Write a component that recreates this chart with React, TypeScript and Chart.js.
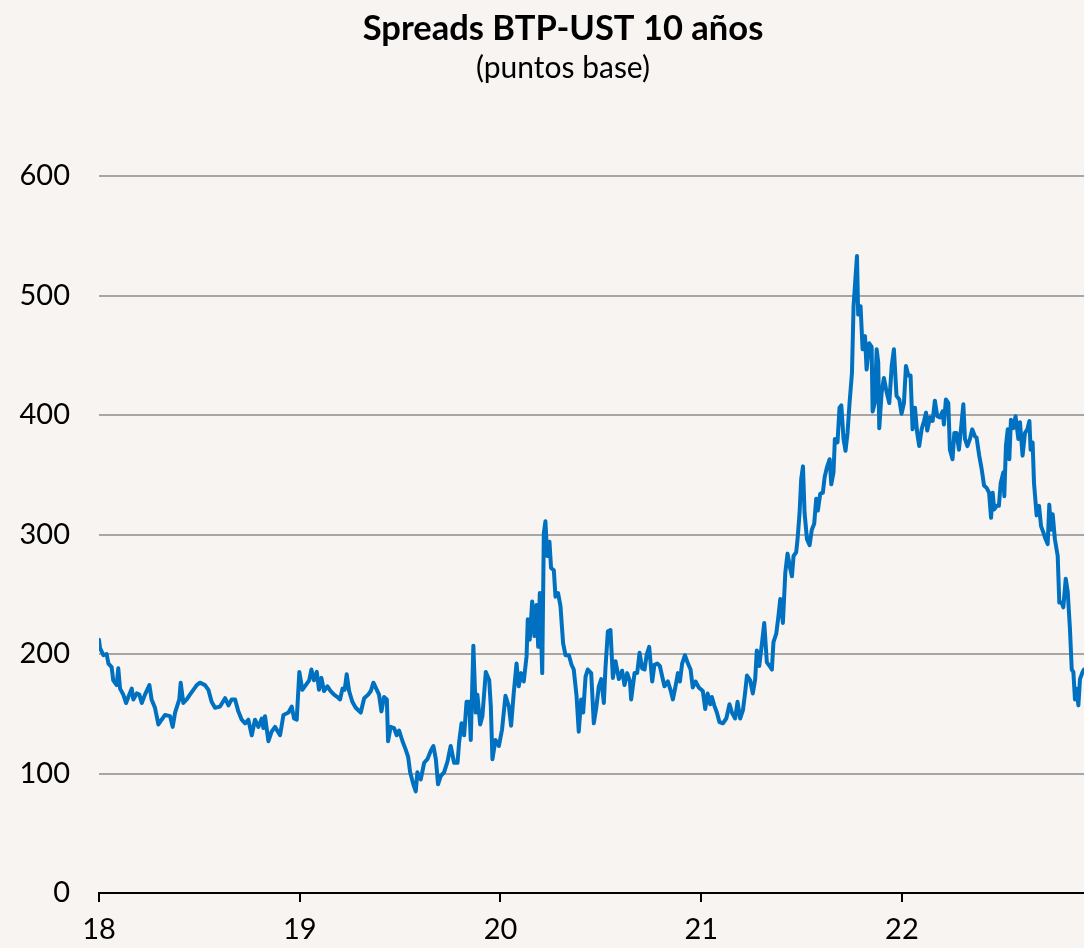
import React, { useEffect, useRef } from 'react';
import { Chart, registerables } from 'chart.js';

Chart.register(...registerables);

const TITLE = 'Spreads BTP-UST 10 años';
const SUBTITLE = '(puntos base)';
const xTickLabels = ['18', '19', '20', '21', '22'];
const yTickValues = [0, 100, 200, 300, 400, 500, 600];
const X_MAX = 4.907; // end of series (years since start of 2018)

// [years since 1 Jan 2018, spread in basis points]
const s2018: [number, number][] = [
  [0.000, 212], [0.005, 205], [0.022, 199], [0.038, 200], [0.047, 192], [0.063, 189], [0.071, 178],
  [0.088, 174], [0.096, 188], [0.105, 171], [0.121, 166], [0.135, 159], [0.146, 164], [0.163, 171],
  [0.171, 162], [0.188, 167], [0.201, 166], [0.213, 159], [0.229, 166], [0.251, 174], [0.262, 162],
  [0.279, 155], [0.296, 141], [0.312, 145], [0.329, 149], [0.354, 148], [0.367, 139], [0.379, 151],
  [0.400, 162], [0.407, 176], [0.420, 159], [0.437, 162], [0.453, 166], [0.470, 170], [0.487, 174],
  [0.503, 176], [0.528, 174], [0.545, 170], [0.561, 160], [0.578, 155], [0.603, 156], [0.628, 163],
  [0.645, 157], [0.661, 162], [0.678, 162], [0.694, 152], [0.711, 145], [0.728, 142], [0.744, 145],
  [0.761, 132], [0.777, 145], [0.794, 139], [0.811, 146], [0.819, 138], [0.827, 148], [0.844, 127],
  [0.860, 135], [0.877, 139], [0.902, 132], [0.919, 149], [0.944, 151], [0.960, 156], [0.972, 146],
  [0.985, 145], [0.998, 185],
];

const s2019: [number, number][] = [
  [1.013, 170], [1.030, 174], [1.047, 178], [1.058, 187], [1.071, 178], [1.085, 185], [1.096, 170],
  [1.108, 180], [1.121, 169], [1.138, 173], [1.154, 169], [1.171, 166], [1.188, 164], [1.201, 162],
  [1.213, 171], [1.224, 170], [1.234, 183], [1.246, 169], [1.262, 160], [1.279, 155], [1.304, 151],
  [1.321, 163], [1.341, 166], [1.354, 169], [1.367, 176], [1.384, 170], [1.395, 166], [1.407, 152],
  [1.420, 164], [1.434, 162], [1.440, 127], [1.453, 139], [1.470, 138], [1.483, 132], [1.495, 136],
  [1.512, 127], [1.528, 120], [1.540, 114], [1.550, 101], [1.566, 91], [1.578, 85], [1.586, 101],
  [1.603, 95], [1.620, 109], [1.636, 112], [1.653, 119], [1.666, 123], [1.678, 112], [1.689, 91],
  [1.703, 98], [1.719, 101], [1.736, 110], [1.752, 123], [1.769, 109], [1.786, 109], [1.794, 126],
  [1.806, 142], [1.819, 132], [1.831, 160], [1.844, 160], [1.852, 128], [1.865, 207], [1.877, 151],
  [1.885, 166], [1.899, 141], [1.910, 148], [1.927, 185], [1.944, 178], [1.952, 156], [1.960, 112],
  [1.975, 128], [1.992, 123],
];

const s2020: [number, number][] = [
  [2.008, 137], [2.025, 165], [2.042, 156], [2.053, 140], [2.066, 167], [2.080, 192], [2.091, 173],
  [2.103, 184], [2.116, 177], [2.130, 198], [2.136, 229], [2.146, 212], [2.158, 244], [2.169, 215],
  [2.179, 241], [2.188, 206], [2.196, 251], [2.208, 184], [2.216, 301], [2.224, 311], [2.233, 282],
  [2.244, 294], [2.252, 272], [2.266, 270], [2.274, 248], [2.287, 251], [2.299, 240], [2.312, 209],
  [2.324, 199], [2.341, 199], [2.354, 191], [2.365, 187], [2.379, 165], [2.390, 135], [2.402, 162],
  [2.412, 151], [2.424, 181], [2.435, 187], [2.452, 184], [2.465, 142], [2.478, 156], [2.490, 173],
  [2.502, 179], [2.515, 159], [2.523, 188], [2.535, 219], [2.548, 220], [2.560, 180], [2.573, 194],
  [2.590, 179], [2.606, 186], [2.618, 174], [2.631, 184], [2.645, 177], [2.651, 162], [2.668, 184],
  [2.681, 184], [2.693, 201], [2.706, 188], [2.718, 187], [2.728, 199], [2.741, 206], [2.756, 177],
  [2.767, 191], [2.781, 192], [2.794, 190], [2.806, 181], [2.817, 173], [2.834, 177], [2.847, 170],
  [2.859, 162], [2.872, 173], [2.884, 184], [2.894, 177], [2.905, 192], [2.919, 199], [2.934, 192],
  [2.947, 187], [2.958, 172], [2.972, 177], [2.988, 172],
];

const s2021: [number, number][] = [
  [3.008, 169], [3.020, 154], [3.032, 167], [3.045, 158], [3.053, 164], [3.065, 157], [3.078, 151],
  [3.091, 143], [3.108, 142], [3.125, 146], [3.141, 158], [3.153, 151], [3.169, 146], [3.181, 160],
  [3.194, 146], [3.208, 153], [3.219, 168], [3.228, 182], [3.244, 178], [3.257, 167], [3.269, 179],
  [3.277, 203], [3.289, 190], [3.302, 208], [3.314, 226], [3.327, 193], [3.341, 190], [3.352, 187],
  [3.360, 210], [3.374, 217], [3.385, 232], [3.394, 246], [3.407, 226], [3.419, 268], [3.430, 284],
  [3.444, 271], [3.452, 265], [3.460, 282], [3.473, 285], [3.480, 296], [3.490, 318], [3.498, 346],
  [3.507, 357], [3.515, 318], [3.527, 296], [3.540, 291], [3.551, 304], [3.563, 309], [3.573, 330],
  [3.581, 320], [3.593, 334], [3.606, 335], [3.615, 348], [3.626, 356], [3.640, 363], [3.648, 342],
  [3.659, 352], [3.666, 380], [3.679, 377], [3.689, 406], [3.698, 408], [3.709, 380], [3.719, 370],
  [3.729, 385], [3.739, 410], [3.751, 435], [3.759, 491], [3.767, 511], [3.776, 533], [3.782, 484],
  [3.794, 491], [3.804, 455], [3.816, 466], [3.824, 438], [3.837, 460], [3.849, 457], [3.854, 403],
  [3.865, 410], [3.874, 455], [3.882, 444], [3.887, 389], [3.899, 419], [3.910, 431], [3.924, 419],
  [3.937, 410], [3.949, 441], [3.960, 455], [3.973, 416], [3.987, 413], [3.998, 401],
];

const s2022: [number, number][] = [
  [4.010, 410], [4.020, 441], [4.032, 433], [4.043, 433], [4.053, 388], [4.065, 406], [4.076, 385],
  [4.086, 374], [4.098, 388], [4.110, 395], [4.120, 402], [4.126, 387], [4.140, 398], [4.153, 395],
  [4.164, 412], [4.176, 399], [4.189, 398], [4.203, 403], [4.209, 392], [4.219, 413], [4.231, 410],
  [4.239, 371], [4.252, 363], [4.261, 385], [4.272, 385], [4.284, 371], [4.294, 388], [4.306, 409],
  [4.314, 380], [4.326, 374], [4.339, 380], [4.350, 388], [4.364, 382], [4.372, 381], [4.385, 366],
  [4.397, 355], [4.409, 341], [4.422, 339], [4.434, 335], [4.444, 314], [4.452, 335], [4.460, 321],
  [4.472, 324], [4.483, 324], [4.492, 343], [4.505, 352], [4.510, 332], [4.518, 374], [4.527, 388],
  [4.535, 363], [4.543, 396], [4.555, 389], [4.566, 399], [4.580, 380], [4.588, 394], [4.601, 366],
  [4.613, 385], [4.625, 388], [4.635, 395], [4.641, 371], [4.651, 377], [4.658, 343], [4.671, 316],
  [4.683, 324], [4.693, 307], [4.704, 302], [4.716, 296], [4.726, 292], [4.734, 325], [4.743, 304],
  [4.751, 317], [4.762, 296], [4.776, 282], [4.784, 243], [4.796, 243], [4.804, 239], [4.816, 263],
  [4.826, 252], [4.837, 221], [4.846, 187], [4.854, 185], [4.862, 162], [4.870, 171], [4.879, 157],
  [4.887, 179], [4.900, 185], [4.907, 187],
];

const BG = '#F7F4F1';
const LINE = '#0070C0';
const GRID = '#A6A6A6';
const FONT = 'Lato, "Open Sans", sans-serif';

const decoPlugin = {
  id: 'deco',
  beforeDraw(chart: any) {
    const { ctx, width, height } = chart;
    ctx.save();
    ctx.fillStyle = BG;
    ctx.fillRect(0, 0, width, height);
    ctx.restore();
  },
  afterDraw(chart: any) {
    const { ctx } = chart;
    ctx.save();
    ctx.fillStyle = '#000';
    ctx.textAlign = 'center';
    ctx.textBaseline = 'alphabetic';
    ctx.font = `bold 34.5px ${FONT}`;
    ctx.fillText(TITLE, 563, 40);
    ctx.font = `30px ${FONT}`;
    ctx.fillText(SUBTITLE, 563, 78);
    ctx.restore();
  },
};

export default function App() {
  const ref = useRef<HTMLCanvasElement>(null);

  useEffect(() => {
    document.body.style.margin = '0';
    document.body.style.background = BG;
    const series = [...s2018, ...s2019, ...s2020, ...s2021, ...s2022].map(([x, y]) => ({ x, y }));
    const chart = new Chart(ref.current as HTMLCanvasElement, {
      type: 'line',
      data: {
        datasets: [
          {
            data: series,
            borderColor: LINE,
            borderWidth: 4,
            pointRadius: 0,
            tension: 0,
            borderJoinStyle: 'round',
            borderCapStyle: 'round',
          },
        ],
      },
      options: {
        animation: false,
        responsive: false,
        parsing: false,
        layout: { padding: { top: 176, left: 0, right: 0, bottom: 0 } },
        plugins: {
          legend: { display: false },
          tooltip: { enabled: false },
          title: { display: false },
        },
        scales: {
          x: {
            type: 'linear',
            min: 0,
            max: X_MAX,
            afterFit: (s: any) => {
              s.height = 55;
            },
            border: { display: true, color: '#000', width: 2 },
            grid: { drawOnChartArea: false, drawTicks: true, tickLength: 9, color: '#000', lineWidth: 2 },
            ticks: {
              stepSize: 1,
              includeBounds: false,
              autoSkip: false,
              maxRotation: 0,
              padding: 10,
              color: '#000',
              font: { family: FONT, size: 29 },
              callback: (v: any) => xTickLabels[Math.round(Number(v))] ?? '',
            },
          },
          y: {
            min: yTickValues[0],
            max: yTickValues[yTickValues.length - 1],
            afterFit: (s: any) => {
              s.width = 99;
            },
            border: { display: false },
            grid: {
              drawTicks: false,
              lineWidth: 2,
              color: (c: any) => (c.tick && c.tick.value === 0 ? 'rgba(0,0,0,0)' : GRID),
            },
            ticks: {
              stepSize: 100,
              padding: 29,
              color: '#000',
              font: { family: FONT, size: 29 },
            },
          },
        },
      } as any,
      plugins: [decoPlugin],
    });
    return () => chart.destroy();
  }, []);

  return <canvas ref={ref} width={1084} height={948} style={{ display: 'block' }} />;
}
